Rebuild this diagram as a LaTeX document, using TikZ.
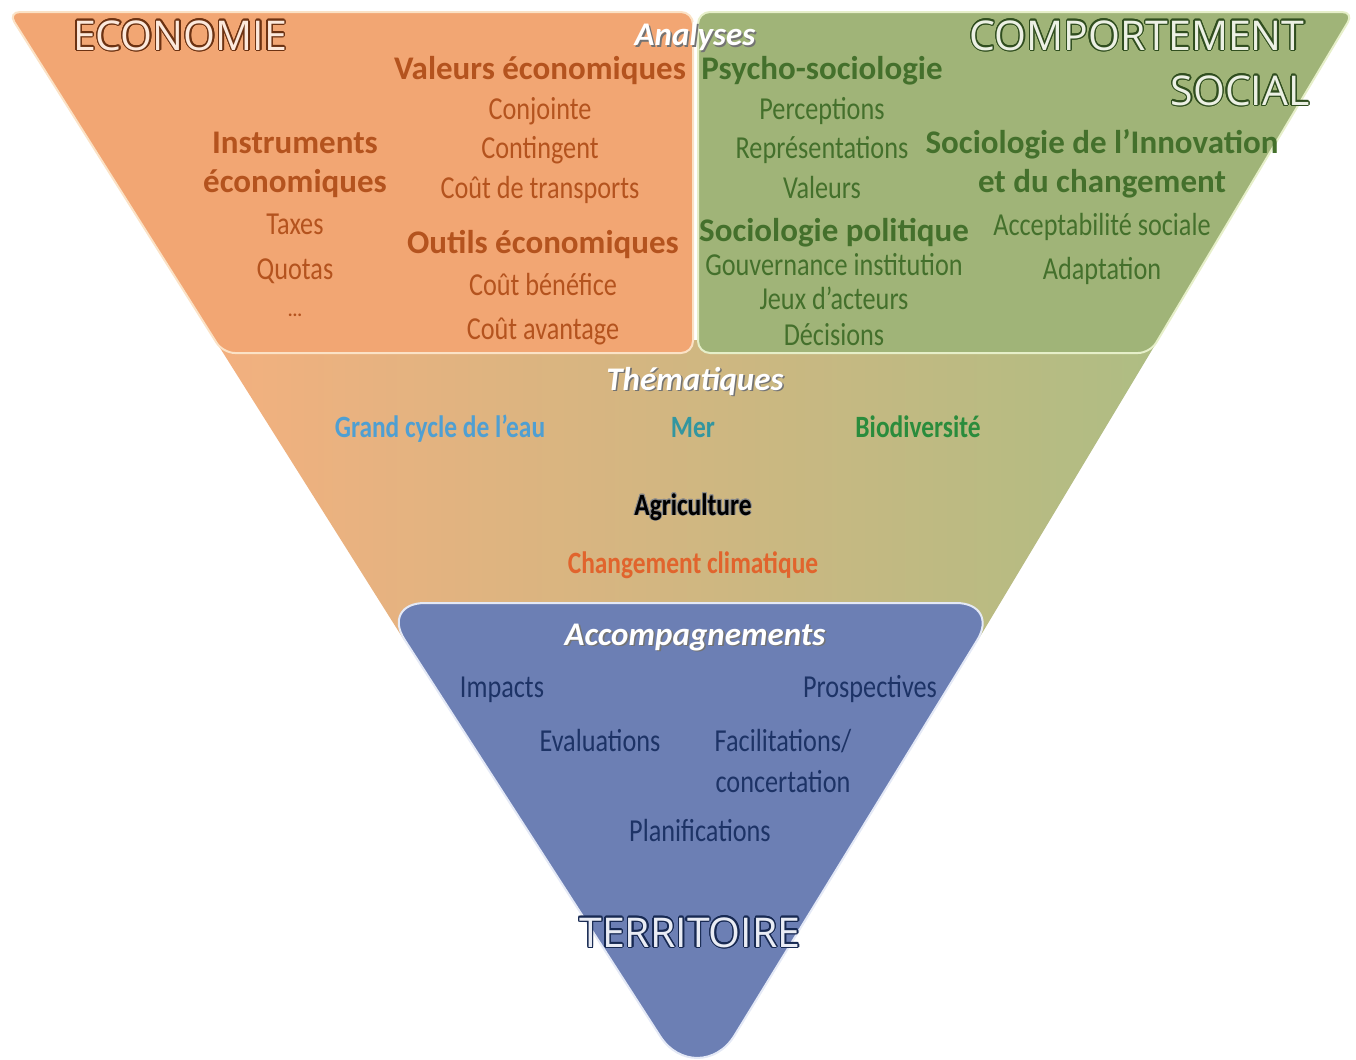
\documentclass[tikz,border=0pt]{standalone}
\usepackage{fontspec}
\setmainfont{Carlito}
\newfontfamily\condfont[FakeStretch=0.82]{Carlito}
\newfontfamily\titlefont{Open Sans}
\usepackage[copies]{contour}
\contourlength{0.7pt}

\definecolor{ecofill}{HTML}{F2A673}
\definecolor{ecoline}{HTML}{FBE2C6}
\definecolor{ecotext}{HTML}{B4531E}
\definecolor{socfill}{HTML}{A0B478}
\definecolor{socline}{HTML}{E6EFC9}
\definecolor{soctext}{HTML}{44702C}
\definecolor{accfill}{HTML}{6C7FB4}
\definecolor{accline}{HTML}{E4E9F6}
\definecolor{acctext}{HTML}{1D3366}
\definecolor{bandL}{HTML}{F3B07F}
\definecolor{bandM}{HTML}{DCC594}
\definecolor{bandR}{HTML}{AEBD83}
\definecolor{eau}{HTML}{4F9FD2}
\definecolor{mer}{HTML}{3396A0}
\definecolor{biodiv}{HTML}{2A8C3C}
\definecolor{climat}{HTML}{E1642D}

\newcommand\shadowed[1]{\rlap{\hspace{0.8pt}\raisebox{-0.8pt}{\color{black!55}#1}}#1}

\begin{document}
\begin{tikzpicture}[
	x=0.5pt, y=-0.5pt,
	every node/.style={inner sep=0pt, anchor=base},
	panel/.style={draw=#1, line width=1pt, rounded corners=6pt},
	ecoitem/.style={font=\condfont\fontsize{16}{19}\selectfont, text=ecotext},
	ecohead/.style={font=\bfseries\fontsize{16.5}{19}\selectfont, text=ecotext},
	socitem/.style={font=\condfont\fontsize{16}{19}\selectfont, text=soctext},
	sochead/.style={font=\bfseries\fontsize{16.5}{19}\selectfont, text=soctext},
	accitem/.style={font=\condfont\fontsize{16}{19}\selectfont, text=acctext},
	themitem/.style={font=\condfont\bfseries\fontsize{15.5}{18}\selectfont},
	heading/.style={font=\bfseries\itshape\fontsize{16.5}{19}\selectfont, text=white},
	bigtitle/.style={font=\titlefont\fontsize{20.5}{24}\selectfont},
	]
\useasboundingbox (0,0) rectangle (1356,1060);

% middle band
\shade[left color=bandL, middle color=bandM, right color=bandR]
	(215,340) -- (1158,340) -- (978,640) -- (404,640) -- cycle;

% top panels
\draw[panel=ecoline, fill=ecofill] (8,12) -- (693,12) -- (693,353) -- (223,353) -- cycle;
\draw[panel=socline, fill=socfill] (698,12) -- (1354,12) -- (1150,353) -- (698,353) -- cycle;

% territoire
\draw[draw=accline, line width=1pt, fill=accfill]
	(660.1,1036.1) -- (404.8,640) .. controls (391.6,619.7) and (400.8,603) .. (425,603)
	-- (956,603) .. controls (980.2,603) and (989.8,620) .. (977,640.5)
	-- (734.6,1035.3) .. controls (716.3,1065.2) and (679,1065.5) .. (660.1,1036.1) -- cycle;

% titles
\node [bigtitle, text=ecofill!25!white] (economie) at (180,50) {\contour{ecotext!60!black}{ECONOMIE}};
\node [bigtitle, text=socfill!20!white] (comportement) at (1137,50) {\contour{soctext!70!black}{COMPORTEMENT}};
\node [bigtitle, text=socfill!20!white, anchor=base east] (social) at (1310,105) {\contour{soctext!70!black}{SOCIAL}};
\node [bigtitle, text=accfill!15!white] (territoire) at (690,947) {\contour{acctext!80!black}{TERRITOIRE}};

% economie
\node [heading] (analyses) at (695,46) {\shadowed{Analyses}};
\node [ecohead] (valeurs-eco) at (540,79) {Valeurs économiques};
\node [ecoitem] (conjointe) at (540,119) {Conjointe};
\node [ecoitem] (contingent) at (540,158) {Contingent};
\node [ecoitem] (transports) at (540,198) {Coût de transports};
\node [ecohead] (outils) at (543,253) {Outils économiques};
\node [ecoitem] (benefice) at (543,295) {Coût bénéfice};
\node [ecoitem] (avantage) at (543,339) {Coût avantage};
\node [ecohead] (instruments) at (295,153) {Instruments};
\node [ecohead] (instruments2) at (295,192) {économiques};
\node [ecoitem] (taxes) at (295,234) {Taxes};
\node [ecoitem] (quotas) at (295,279) {Quotas};
\node [ecoitem, font=\bfseries\fontsize{9}{10}\selectfont] (etc) at (295,316) {...};

% comportement social
\node [sochead] (psycho) at (822,79) {Psycho-sociologie};
\node [socitem] (perceptions) at (822,119) {Perceptions};
\node [socitem] (representations) at (822,158) {Représentations};
\node [socitem] (valeurs) at (822,198) {Valeurs};
\node [sochead] (politique) at (834,241) {Sociologie politique};
\node [socitem] (gouvernance) at (834,275) {Gouvernance institution};
\node [socitem] (jeux) at (834,309) {Jeux d’acteurs};
\node [socitem] (decisions) at (834,345) {Décisions};
\node [sochead] (innovation) at (1102,153) {Sociologie de l’Innovation};
\node [sochead] (changement) at (1102,192) {et du changement};
\node [socitem] (acceptabilite) at (1102,235) {Acceptabilité sociale};
\node [socitem] (adaptation) at (1102,279) {Adaptation};

% thematiques
\node [heading] (thematiques) at (695,390) {\shadowed{Thématiques}};
\node [themitem, text=eau] (eau) at (440,437) {Grand cycle de l’eau};
\node [themitem, text=mer] (mer) at (693,437) {Mer};
\node [themitem, text=biodiv] (biodiversite) at (918,437) {Biodiversité};
\node [themitem, text=black] (agriculture) at (693,515) {\contourlength{0.4pt}\contour{black!45}{Agriculture}};
\node [themitem, text=climat] (climatique) at (693,573) {Changement climatique};

% accompagnements
\node [heading] (accompagnements) at (695,645) {\shadowed{Accompagnements}};
\node [accitem] (impacts) at (502,697) {Impacts};
\node [accitem] (prospectives) at (870,697) {Prospectives};
\node [accitem] (evaluations) at (600,751) {Evaluations};
\node [accitem] (facilitations) at (783,751) {Facilitations/};
\node [accitem] (concertation) at (783,792) {concertation};
\node [accitem] (planifications) at (700,841) {Planifications};
\end{tikzpicture}
\end{document}
